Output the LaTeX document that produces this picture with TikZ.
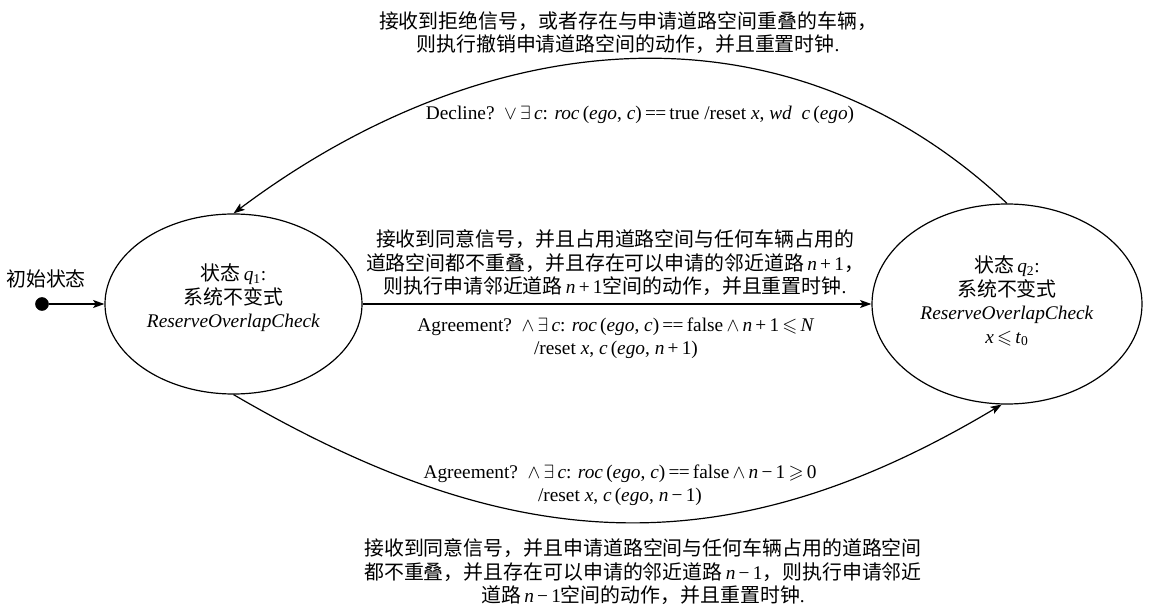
\documentclass[tikz,border=0pt]{standalone}
\usepackage{fontspec}
\usepackage{amssymb}
\setmainfont{Liberation Serif}
\newfontfamily\cjkfont{Noto Sans CJK SC}[Scale=1.03]
\newcommand\zh[1]{{\cjkfont #1}}
\newcommand\iv[1]{\textit{#1}}
\newcommand\eqeq{\,=\kern-0.5pt=\,}
\usetikzlibrary{shapes.geometric,arrows.meta}

\tikzset{
  txt/.style={font=\fontsize{14.5pt}{17.6pt}\selectfont, align=center, inner sep=0pt},
  state/.style={draw, ellipse, line width=0.9pt, inner sep=0pt},
  edge/.style={line width=0.9pt, -{Stealth[length=8.5pt,width=6pt,inset=2pt]}},
}

\begin{document}
\begin{tikzpicture}[x=0.75pt, y=-0.75pt]
\useasboundingbox (0,0) rectangle (1158,606);

% states
\node[state, minimum width=192.75pt, minimum height=135pt] (q1) at (233.5,304) {};
\node[txt] (q1txt) at (233.5,298)
  {\zh{状态}\,\iv{q}\textsubscript{1}:\\ \zh{系统不变式}\\ \iv{ReserveOverlapCheck}};
\node[state, minimum width=202.5pt, minimum height=150pt] (q2) at (1007,304) {};
\node[txt] (q2txt) at (1007,301)
  {\zh{状态}\,\iv{q}\textsubscript{2}:\\ \zh{系统不变式}\\ \iv{ReserveOverlapCheck}\\
   \iv{x}\,$\leqslant$\,\iv{t}\textsubscript{0}};

% initial state
\node[circle, draw, fill=black, minimum size=9.75pt, inner sep=0pt] (init) at (42,304) {};
\node[txt] (initlbl) at (46,279) {\zh{初始状态}};
\draw[edge] (init) -- (q1);

% transitions
\draw[edge] (q2.north) .. controls (782,-8) and (482,27) .. (q1.north);
\draw[edge] (q1) -- (q2);
\draw[edge] (q1.south) .. controls (510,556) and (725,570) .. (q2.-93);

% transition labels
\node[txt] (decl) at (640,115)
  {Decline?\ \ $\vee\,\exists$\,\iv{c}: \iv{roc}\,(\iv{ego}, \iv{c})\eqeq true /reset \iv{x}, \iv{wd}\ \ \iv{c}\,(\iv{ego})};
\node[txt] (declzh) at (628,32.5)
  {\zh{接收到拒绝信号，或者存在与申请道路空间重叠的车辆，}\\
   \zh{则执行撤销申请道路空间的动作，并且重置时钟}.};

\node[txt] (agrup) at (616,338.5)
  {Agreement?\ \ $\wedge\,\exists$\,\iv{c}: \iv{roc}\,(\iv{ego}, \iv{c})\eqeq false\,$\wedge$\,\iv{n}\,+\,1\,$\leqslant$\,\iv{N}\\
   /reset \iv{x}, \iv{c}\,(\iv{ego}, \iv{n}\,+\,1)};
\node[txt] (agrupzh) at (615,263)
  {\zh{接收到同意信号，并且占用道路空间与任何车辆占用的}\\
   \zh{道路空间都不重叠，并且存在可以申请的邻近道路}\,\iv{n}\,+\,1\zh{，}\\
   \zh{则执行申请邻近道路}\,\iv{n}\,+\,1\zh{空间的动作，并且重置时钟}.};

\node[txt] (agrdn) at (620,485.5)
  {Agreement?\ \ $\wedge\,\exists$\,\iv{c}: \iv{roc}\,(\iv{ego}, \iv{c})\eqeq false\,$\wedge$\,\iv{n}\,−\,1\,$\geqslant$\,0\\
   /reset \iv{x}, \iv{c}\,(\iv{ego}, \iv{n}\,−\,1)};
\node[txt] (agrdnzh) at (643,572)
  {\zh{接收到同意信号，并且申请道路空间与任何车辆占用的道路空间}\\
   \zh{都不重叠，并且存在可以申请的邻近道路}\,\iv{n}\,−\,1\zh{，则执行申请邻近}\\
   \zh{道路}\,\iv{n}\,−\,1\zh{空间的动作，并且重置时钟}.};
\end{tikzpicture}
\end{document}
